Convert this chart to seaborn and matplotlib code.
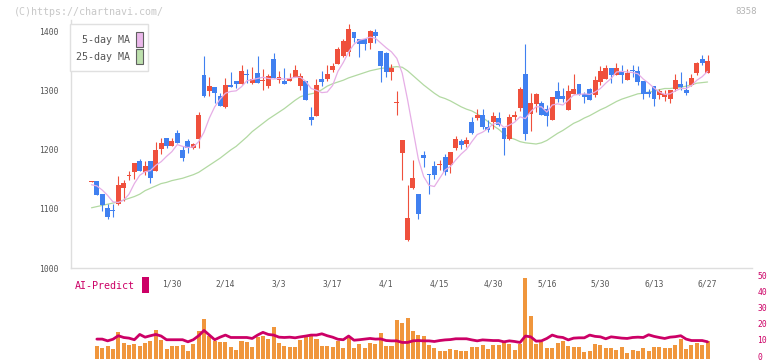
import numpy as np
import pandas as pd
import seaborn as sns
import matplotlib.pyplot as plt
from matplotlib.patches import Rectangle
from matplotlib.transforms import ScaledTranslation

sns.set_style('white')
plt.rcParams['font.family'] = ['DejaVu Sans Mono']

# daily candles (oldest first)
opens = [1146, 1147, 1125, 1102, 1099, 1108, 1135, 1155, 1163, 1182,
         1162, 1181, 1164, 1202, 1220, 1207, 1229, 1200, 1215, 1204,
         1218, 1327, 1299, 1307, 1291, 1272, 1310, 1317, 1311, 1329,
         1313, 1330, 1317, 1308, 1354, 1318, 1317, 1316, 1324, 1308,
         1317, 1256, 1258, 1320, 1320, 1336, 1346, 1359, 1366, 1400,
         1388, 1388, 1381, 1400, 1368, 1364, 1332, 1279, 1195, 1047,
         1136, 1125, 1192, 1159, 1173, 1174, 1188, 1175, 1203, 1215,
         1210, 1247, 1254, 1259, 1239, 1247, 1254, 1237, 1219, 1256,
         1271, 1329, 1260, 1278, 1280, 1270, 1251, 1300, 1292, 1268,
         1295, 1312, 1295, 1303, 1293, 1315, 1320, 1339, 1327, 1334,
         1319, 1336, 1334, 1317, 1298, 1308, 1293, 1289, 1286, 1303,
         1312, 1302, 1310, 1331, 1354, 1331]
highs = [1147, 1147, 1125, 1108, 1108, 1156, 1149, 1164, 1178, 1184,
         1181, 1181, 1214, 1221, 1220, 1221, 1234, 1206, 1218, 1211,
         1265, 1359, 1323, 1307, 1297, 1322, 1332, 1317, 1344, 1337,
         1340, 1359, 1337, 1328, 1364, 1333, 1338, 1330, 1344, 1331,
         1317, 1273, 1320, 1334, 1344, 1347, 1375, 1388, 1413, 1400,
         1388, 1388, 1403, 1405, 1368, 1366, 1346, 1300, 1217, 1141,
         1183, 1125, 1198, 1159, 1181, 1183, 1193, 1197, 1224, 1219,
         1222, 1256, 1269, 1269, 1251, 1264, 1264, 1237, 1261, 1266,
         1307, 1380, 1297, 1297, 1283, 1276, 1290, 1315, 1305, 1310,
         1329, 1312, 1298, 1305, 1325, 1342, 1344, 1339, 1347, 1344,
         1337, 1344, 1342, 1317, 1303, 1308, 1303, 1301, 1302, 1329,
         1332, 1317, 1329, 1349, 1361, 1361]
lows = [1146, 1124, 1096, 1083, 1087, 1106, 1114, 1149, 1150, 1164,
        1158, 1144, 1164, 1193, 1203, 1207, 1211, 1182, 1195, 1202,
        1203, 1289, 1292, 1280, 1274, 1271, 1306, 1305, 1311, 1313,
        1311, 1314, 1302, 1305, 1322, 1314, 1311, 1316, 1324, 1302,
        1285, 1242, 1258, 1308, 1316, 1332, 1346, 1358, 1359, 1382,
        1357, 1369, 1371, 1381, 1315, 1323, 1319, 1259, 1149, 1046,
        1134, 1083, 1171, 1125, 1151, 1166, 1158, 1161, 1200, 1202,
        1205, 1227, 1251, 1236, 1231, 1236, 1241, 1192, 1217, 1251,
        1266, 1217, 1232, 1264, 1259, 1241, 1251, 1281, 1281, 1268,
        1295, 1293, 1280, 1285, 1290, 1310, 1320, 1314, 1327, 1314,
        1319, 1324, 1310, 1287, 1290, 1275, 1287, 1282, 1280, 1299,
        1302, 1293, 1308, 1327, 1344, 1331]
closes = [1147, 1124, 1106, 1086, 1097, 1140, 1144, 1157, 1178, 1164,
          1173, 1153, 1200, 1211, 1207, 1215, 1211, 1186, 1203, 1210,
          1259, 1292, 1308, 1296, 1275, 1310, 1306, 1311, 1333, 1327,
          1320, 1314, 1319, 1325, 1322, 1323, 1311, 1322, 1336, 1325,
          1285, 1251, 1310, 1315, 1329, 1342, 1371, 1385, 1405, 1390,
          1380, 1380, 1402, 1393, 1342, 1332, 1339, 1281, 1217, 1085,
          1153, 1092, 1187, 1158, 1158, 1176, 1163, 1197, 1219, 1208,
          1217, 1229, 1259, 1239, 1234, 1258, 1242, 1219, 1256, 1259,
          1303, 1227, 1280, 1295, 1259, 1258, 1290, 1286, 1287, 1300,
          1303, 1293, 1290, 1285, 1319, 1334, 1339, 1327, 1339, 1327,
          1330, 1334, 1315, 1294, 1294, 1287, 1299, 1294, 1302, 1319,
          1307, 1297, 1322, 1348, 1348, 1351]

ma5 = [1141, 1139, 1132, 1123, 1112, 1111, 1115, 1125, 1143, 1157,
       1163, 1165, 1174, 1180, 1189, 1197, 1209, 1206, 1204, 1205,
       1214, 1230, 1254, 1273, 1286, 1296, 1299, 1300, 1307, 1317,
       1319, 1321, 1323, 1321, 1320, 1321, 1320, 1321, 1323, 1323,
       1316, 1304, 1301, 1297, 1298, 1309, 1333, 1348, 1366, 1379,
       1386, 1388, 1391, 1389, 1381, 1373, 1366, 1355, 1330, 1285,
       1235, 1185, 1155, 1140, 1138, 1152, 1166, 1172, 1183, 1193,
       1201, 1214, 1226, 1230, 1236, 1244, 1246, 1238, 1242, 1247,
       1256, 1253, 1265, 1273, 1273, 1264, 1276, 1278, 1276, 1284,
       1293, 1294, 1295, 1294, 1298, 1304, 1313, 1321, 1332, 1333,
       1332, 1331, 1329, 1320, 1313, 1305, 1298, 1294, 1295, 1300,
       1304, 1304, 1309, 1318, 1324, 1333]
ma25 = [1102, 1104, 1106, 1108, 1110, 1112, 1115, 1118, 1121, 1125,
        1131, 1135, 1139, 1143, 1145, 1148, 1150, 1152, 1155, 1158,
        1162, 1168, 1174, 1180, 1186, 1193, 1200, 1206, 1214, 1222,
        1231, 1238, 1245, 1252, 1258, 1264, 1270, 1277, 1284, 1290,
        1293, 1295, 1297, 1302, 1308, 1312, 1315, 1318, 1322, 1325,
        1328, 1331, 1334, 1336, 1338, 1339, 1340, 1341, 1340, 1334,
        1326, 1318, 1310, 1303, 1296, 1290, 1287, 1283, 1278, 1273,
        1269, 1266, 1261, 1255, 1248, 1241, 1235, 1227, 1221, 1218,
        1214, 1212, 1211, 1210, 1212, 1216, 1222, 1228, 1233, 1239,
        1245, 1249, 1254, 1258, 1263, 1268, 1272, 1277, 1282, 1286,
        1289, 1292, 1295, 1296, 1298, 1299, 1302, 1304, 1304, 1305,
        1306, 1308, 1310, 1313, 1314, 1315]

volume = [np.nan, 7.9, 6.6, 7.9, 6.0, 16.7, 9.8, 8.5, 9.1, 7.9,
          9.8, 11.0, 17.9, 11.6, 6.0, 7.9, 7.9, 8.5, 4.7, 9.1,
          17.3, 24.9, 14.2, 11.0, 10.4, 10.4, 7.2, 5.3, 11.0, 10.4,
          7.2, 13.5, 14.2, 12.3, 19.8, 9.8, 7.9, 7.2, 7.2, 11.6,
          13.5, 15.4, 12.3, 7.9, 7.9, 7.2, 11.0, 6.6, 12.9, 6.6,
          9.1, 6.6, 9.8, 9.1, 16.1, 7.9, 7.9, 24.2, 22.4, 25.5,
          17.3, 14.8, 14.2, 8.5, 6.6, 4.7, 4.7, 6.0, 5.3, 4.7,
          4.7, 7.2, 7.2, 8.5, 6.0, 8.5, 8.5, 11.0, 9.1, 5.3,
          9.1, 50.0, 26.8, 9.1, 10.4, 6.6, 6.6, 9.8, 11.0, 7.9,
          7.2, 7.2, 4.1, 4.7, 9.1, 8.5, 6.6, 6.6, 5.3, 7.2,
          3.5, 5.3, 4.7, 6.6, 4.7, 7.2, 7.2, 6.6, 6.6, 8.5,
          12.3, 6.0, 8.5, 9.8, 8.5, 11.0]
ai_predict = [np.nan, 12.1, 12.1, 11.0, 12.0, 14.2, 13.1, 12.7, 11.7, 15.0,
              13.3, 14.2, 15.0, 14.0, 11.7, 11.7, 11.7, 11.7, 10.4, 11.7,
              14.2, 17.5, 14.6, 11.7, 13.3, 14.6, 13.1, 13.1, 13.1, 13.1,
              12.5, 14.6, 16.3, 15.0, 14.6, 13.3, 13.1, 13.3, 12.9, 13.5,
              14.0, 14.6, 14.6, 15.4, 14.2, 13.3, 12.0, 11.7, 14.0, 11.4,
              11.7, 12.1, 12.5, 12.1, 12.2, 11.2, 11.0, 11.0, 10.0, 10.0,
              11.0, 11.2, 11.0, 11.0, 10.6, 11.2, 11.6, 11.8, 12.3, 12.3,
              12.3, 11.6, 11.0, 11.6, 11.4, 11.2, 11.2, 10.4, 11.0, 10.6,
              10.0, 14.0, 13.5, 10.8, 11.0, 12.5, 14.6, 13.5, 13.1, 11.6,
              12.7, 12.9, 12.9, 14.6, 13.8, 13.5, 12.3, 13.5, 13.1, 12.7,
              12.5, 13.1, 13.3, 13.1, 14.8, 13.8, 13.1, 12.5, 13.3, 13.6,
              14.2, 12.1, 11.2, 11.2, 11.2, 10.4]

date_labels = ['1/30', '2/14', '3/3', '3/17', '4/1', '4/15', '4/30', '5/16', '5/30', '6/13', '6/27']
date_pos = [15, 25, 35, 45, 55, 65, 75, 85, 95, 105, 115]
price_ticks = [1000, 1100, 1200, 1300, 1400]
vol_ticks = [0, 10, 20, 30, 40, 50]

df = pd.DataFrame({'open': opens, 'high': highs, 'low': lows, 'close': closes,
                   'ma5': ma5, 'ma25': ma25, 'vol': volume, 'ai': ai_predict})
df['idx'] = np.arange(len(df))

RED = '#ef503c'
BLUE = '#4080f0'
GRID = '#dedede'
TXT = '#555555'
MAG = '#cc0066'

W, H = 772, 361
fig = plt.figure(figsize=(W / 100, H / 100), dpi=100)

def fx(px):
    return px / W

def fy(py):
    return 1 - py / H

ax = fig.add_axes([fx(71), fy(268), fx(681), 248 / H])
axv = fig.add_axes([fx(71), fy(358.5), fx(681), 80.2 / H])

xmin, xmax = -3.83, 123.3

# candles
up = df['close'] >= df['open']
colors = np.where(up, RED, BLUE)
ax.vlines(df['idx'], df['low'], df['high'], colors=colors, lw=0.8, zorder=2)
body = (df['close'] - df['open']).abs()
h = np.maximum(body, 1.3)
bottom = np.minimum(df['open'], df['close']) - (h - body) / 2
ax.bar(df['idx'], h, bottom=bottom, width=0.92, color=colors, linewidth=0, zorder=3)

sns.lineplot(data=df, x='idx', y='ma5', ax=ax, color='#e6aee6', lw=0.9, zorder=4)
sns.lineplot(data=df, x='idx', y='ma25', ax=ax, color='#b2d9a2', lw=0.9, zorder=1)

ax.set_xlim(xmin, xmax)
ax.set_ylim(1000, 1420)
ax.set_xlabel('')
ax.set_ylabel('')
ax.set_yticks(price_ticks)
ax.set_yticklabels([str(t) for t in price_ticks])
ax.set_xticks(np.linspace(xmin, xmax, 12)[1:])
ax.set_xticklabels([])
ax.set_xticks(date_pos, minor=True)
ax.set_xticklabels(date_labels, minor=True)
ax.tick_params(axis='y', direction='inout', length=5.8, width=0.8, color=GRID,
               pad=5.8, labelsize=5.8, labelcolor=TXT)
ax.tick_params(axis='x', which='major', direction='inout', length=5.8, width=0.8, color=GRID)
ax.tick_params(axis='x', which='minor', length=0, pad=8, labelsize=5.8, labelcolor=TXT)
for s in ['top', 'right']:
    ax.spines[s].set_visible(False)
for s in ['left', 'bottom']:
    ax.spines[s].set_color(GRID)
    ax.spines[s].set_linewidth(1)

# volume + AI predict
axv.set_facecolor('none')
axv.bar(df['idx'], df['vol'], width=0.75, color='#f0963c', linewidth=0)
sns.lineplot(data=df, x='idx', y='ai', ax=axv, color=MAG, lw=2.0)
axv.set_xlim(xmin, xmax)
axv.set_ylim(0, 50)
axv.set_xticks([])
axv.set_xlabel('')
axv.set_ylabel('')
axv.yaxis.tick_right()
axv.set_yticks(vol_ticks)
axv.tick_params(axis='y', length=0, pad=4, labelsize=5.8, labelcolor=MAG)
lift = ScaledTranslation(0, 2.5 / 100, fig.dpi_scale_trans)
for lab in axv.get_yticklabels():
    lab.set_transform(lab.get_transform() + lift)
for s in axv.spines.values():
    s.set_visible(False)

# legend box
fig.add_artist(Rectangle((fx(70), fy(71)), fx(78), 47 / H, transform=fig.transFigure,
                         facecolor='white', edgecolor='#e0e0e0', lw=1, zorder=5))
fig.text(fx(130), fy(40), '5-day MA', ha='right', va='center', fontsize=7.2, color=TXT, zorder=6)
fig.text(fx(130), fy(57), '25-day MA', ha='right', va='center', fontsize=7.2, color=TXT, zorder=6)
fig.add_artist(Rectangle((fx(136), fy(47)), fx(7), 15 / H, transform=fig.transFigure,
                         facecolor='#ebb8eb', edgecolor='#606060', lw=0.8, zorder=6))
fig.add_artist(Rectangle((fx(136), fy(64)), fx(7), 15 / H, transform=fig.transFigure,
                         facecolor='#bde0ad', edgecolor='#606060', lw=0.8, zorder=6))

# AI-Predict label
fig.text(fx(75), fy(286), 'AI-Predict', ha='left', va='center', fontsize=7.2, color=MAG)
fig.add_artist(Rectangle((fx(142), fy(293)), fx(7), 16 / H, transform=fig.transFigure,
                         facecolor=MAG, edgecolor='none'))

fig.text(fx(14), fy(12), '(C)https://chartnavi.com/', ha='left', va='center', fontsize=7.2, color='#c8c8c8')
fig.text(fx(757), fy(12), '8358', ha='right', va='center', fontsize=6.5, color='#b4b4b4')

fig.savefig('out.png', dpi=100)
